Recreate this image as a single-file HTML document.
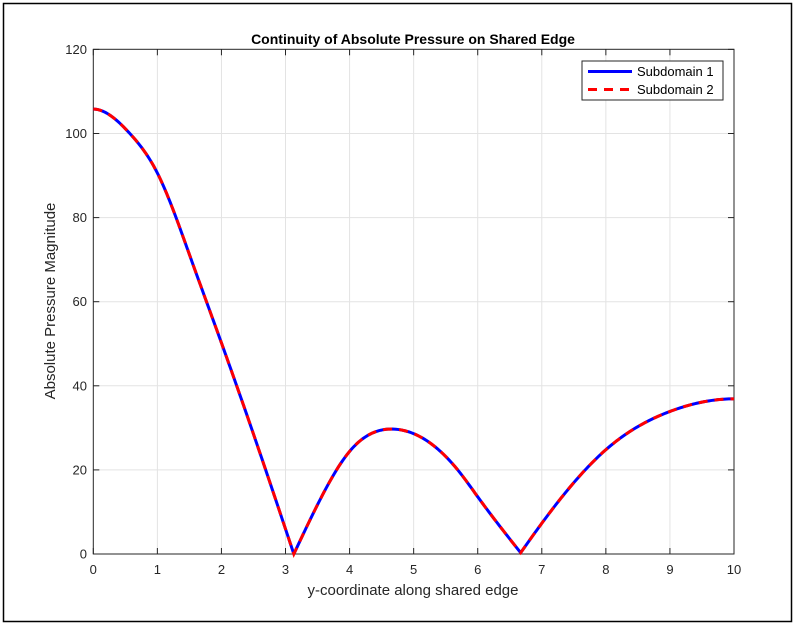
<!DOCTYPE html>
<html><head><meta charset="utf-8"><style>
body{margin:0;background:#fff;}
svg text{font-family:"Liberation Sans",Arial,sans-serif;}
</style></head><body>
<svg id="s" width="795" height="625" viewBox="0 0 795 625" xmlns="http://www.w3.org/2000/svg">
<rect x="0" y="0" width="795" height="625" fill="#fff"/>
<rect x="3.5" y="3.5" width="788" height="618" fill="none" stroke="#000" stroke-width="1.5"/>
<g id="grid" stroke="#e3e3e3" stroke-width="1"></g>
<rect x="93.3" y="49.3" width="640.7" height="504.7" fill="none" stroke="#262626" stroke-width="1"/>
<g id="ticks" stroke="#262626" stroke-width="1"></g>
<g id="labels" font-size="13" fill="#262626"></g>
<path id="p1" fill="none" stroke="#0000ff" stroke-width="3" stroke-linejoin="round"/>
<path id="p2" fill="none" stroke="#ff0000" stroke-width="3" stroke-dasharray="9,7"/>
<text x="413" y="44" font-size="14" font-weight="bold" text-anchor="middle" fill="#000">Continuity of Absolute Pressure on Shared Edge</text>
<text x="413" y="595" font-size="15" text-anchor="middle" fill="#262626">y-coordinate along shared edge</text>
<text transform="translate(55,301) rotate(-90)" font-size="15" text-anchor="middle" fill="#262626">Absolute Pressure Magnitude</text>
<rect x="582" y="61" width="141" height="39" fill="#fff" stroke="#262626" stroke-width="1"/>
<line x1="588" y1="71.5" x2="632" y2="71.5" stroke="#0000ff" stroke-width="3"/>
<line x1="588" y1="89.5" x2="632" y2="89.5" stroke="#ff0000" stroke-width="3" stroke-dasharray="9,7"/>
<text x="637" y="76" font-size="13" fill="#000">Subdomain 1</text>
<text x="637" y="94" font-size="13" fill="#000">Subdomain 2</text>
</svg>
<script>
var X0=93.3,SX=64.07,Y0=554,SY=4.205;
function px(x){return X0+x*SX;} function py(y){return Y0-y*SY;}
var ns="http://www.w3.org/2000/svg";
function el(p,t,a){var e=document.createElementNS(ns,t);for(var k in a)e.setAttribute(k,a[k]);document.getElementById(p).appendChild(e);return e;}
for(var i=1;i<10;i++){el('grid','line',{x1:px(i),x2:px(i),y1:49.3,y2:554});}
for(var j=20;j<120;j+=20){el('grid','line',{x1:93.3,x2:734,y1:py(j),y2:py(j)});}
for(var i=0;i<=10;i++){el('ticks','line',{x1:px(i),x2:px(i),y1:554,y2:548});el('ticks','line',{x1:px(i),x2:px(i),y1:49.3,y2:55.3});
 var t=el('labels','text',{x:px(i),y:574,'text-anchor':'middle'});t.textContent=i;}
for(var j=0;j<=120;j+=20){el('ticks','line',{x1:93.3,x2:99.3,y1:py(j),y2:py(j)});el('ticks','line',{x1:734,x2:728,y1:py(j),y2:py(j)});
 var t=el('labels','text',{x:87,y:py(j)+4.5,'text-anchor':'end'});t.textContent=j;}
// natural/clamped cubic spline
function spline(xs,ys,d0,dn){
 var n=xs.length-1,h=[],al=[],l=[],mu=[],z=[],c=[],b=[],dd=[];
 for(var i=0;i<n;i++)h[i]=xs[i+1]-xs[i];
 l[0]=1;mu[0]=0;z[0]=0;
 if(d0!==null){l[0]=2*h[0];mu[0]=0.5;z[0]=(3*((ys[1]-ys[0])/h[0]-d0))/l[0];}
 for(var i=1;i<n;i++){var a=3/h[i]*(ys[i+1]-ys[i])-3/h[i-1]*(ys[i]-ys[i-1]);
  l[i]=2*(xs[i+1]-xs[i-1])-h[i-1]*mu[i-1];mu[i]=h[i]/l[i];z[i]=(a-h[i-1]*z[i-1])/l[i];}
 if(dn!==null){var a=3*(dn-(ys[n]-ys[n-1])/h[n-1]);l[n]=h[n-1]*(2-mu[n-1]);z[n]=(a-h[n-1]*z[n-1])/l[n];c[n]=z[n];}
 else{c[n]=0;}
 for(var j=n-1;j>=0;j--){c[j]=z[j]-mu[j]*c[j+1];b[j]=(ys[j+1]-ys[j])/h[j]-h[j]*(c[j+1]+2*c[j])/3;dd[j]=(c[j+1]-c[j])/(3*h[j]);}
 return function(x){var i=0;while(i<n-1&&x>xs[i+1])i++;var t=x-xs[i];return ys[i]+b[i]*t+c[i]*t*t+dd[i]*t*t*t;};
}
var segs=[
 [[0,105.8],[0.57,100],[1,90.6],[1.51,70.8],[2,50.2],[2.55,26.3],[3.13,0],0,null],
 [[3.13,0],[3.59,14.4],[4,24.4],[4.69,29.7],[5.1,27.9],[5.73,19.2],[6,13.6],[6.67,0.3],null,null],
 [[6.67,0.3],[7,7.3],[8,24.8],[9,33.9],[10,36.9],null,0]];
var d="";
segs.forEach(function(s,si){
 var dn=s.pop(),d0=s.pop();
 var f=spline(s.map(function(q){return q[0]}),s.map(function(q){return q[1]}),d0,dn);
 var a=s[0][0],e=s[s.length-1][0];
 for(var k=0;k<=120;k++){var x=a+(e-a)*k/120;d+=(d===""?"M":"L")+px(x).toFixed(2)+","+py(Math.max(0,f(x))).toFixed(2);}
});
document.getElementById('p1').setAttribute('d',d);
document.getElementById('p2').setAttribute('d',d);
</script>
</body></html>
